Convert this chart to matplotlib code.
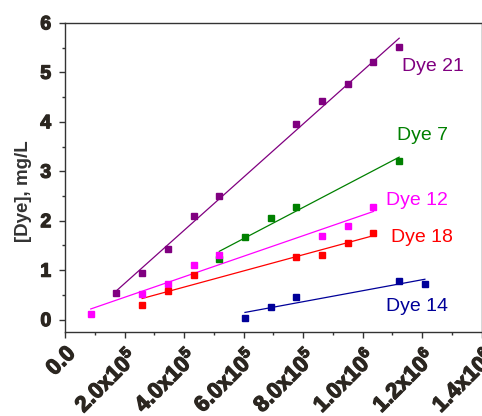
import numpy as np
import matplotlib.pyplot as plt
import matplotlib.patheffects as pe
from matplotlib.ticker import MultipleLocator

plt.rcParams['font.family'] = ['Liberation Sans', 'DejaVu Sans']
plt.rcParams['mathtext.fontset'] = 'custom'
plt.rcParams['mathtext.bf'] = 'Liberation Sans:bold'
plt.rcParams['mathtext.rm'] = 'Liberation Sans'

# Data (time in s, concentration in mg/L)
x_dye21 = [172800, 259200, 345600, 432000, 518400, 777600, 864000, 950400, 1036800, 1123200]
y_dye21 = [0.54, 0.95, 1.43, 2.10, 2.49, 3.96, 4.43, 4.76, 5.20, 5.51]

x_dye7 = [518400, 604800, 691200, 777600, 1123200]
y_dye7 = [1.22, 1.68, 2.05, 2.28, 3.21]

x_dye12 = [86400, 259200, 345600, 432000, 518400, 864000, 950400, 1036800]
y_dye12 = [0.12, 0.51, 0.71, 1.10, 1.31, 1.69, 1.89, 2.28]

x_dye18 = [259200, 345600, 432000, 777600, 864000, 950400, 1036800]
y_dye18 = [0.29, 0.58, 0.91, 1.26, 1.31, 1.55, 1.75]

x_dye14 = [604800, 691200, 777600, 1123200, 1209600]
y_dye14 = [0.04, 0.26, 0.45, 0.78, 0.73]

series = [
    ("Dye 21", x_dye21, y_dye21, "#800080", (1.133e6, 5.12)),
    ("Dye 7", x_dye7, y_dye7, "#008000", (1.117e6, 3.72)),
    ("Dye 12", x_dye12, y_dye12, "#FF00FF", (1.080e6, 2.41)),
    ("Dye 18", x_dye18, y_dye18, "#FF0000", (1.096e6, 1.67)),
    ("Dye 14", x_dye14, y_dye14, "#000099", (1.079e6, 0.26)),
]

tick_col = "#2b2620"
heavy = [pe.withStroke(linewidth=0.9, foreground=tick_col)]

fig = plt.figure(figsize=(4.82, 4.16), dpi=100)
ax = fig.add_axes([0.135, 0.202, 0.864, 0.743])

for name, xs, ys, col, pos in series:
    xs = np.asarray(xs, dtype=float)
    ys = np.asarray(ys)
    ax.plot(xs, ys, "s", color=col, markersize=5, zorder=3)
    # linear fit over the data range
    k, b = np.polyfit(xs, ys, 1)
    xf = np.array([xs.min(), xs.max()])
    ax.plot(xf, k * xf + b, "-", color=col, linewidth=0.9, zorder=2)
    ax.text(pos[0], pos[1], name, color=col, fontsize=14, va="center", ha="left")

ax.set_xlim(0, 1.4e6)
ax.set_ylim(-0.25, 6.0)

ax.xaxis.set_major_locator(MultipleLocator(2e5))
ax.xaxis.set_minor_locator(MultipleLocator(1e5))
ax.yaxis.set_major_locator(MultipleLocator(1))
ax.yaxis.set_minor_locator(MultipleLocator(0.5))

xticks = [0, 2e5, 4e5, 6e5, 8e5, 1.0e6, 1.2e6, 1.4e6]
xlabels = ["0.0", r"$\mathbf{2.0x10^{5}}$", r"$\mathbf{4.0x10^{5}}$", r"$\mathbf{6.0x10^{5}}$",
           r"$\mathbf{8.0x10^{5}}$", r"$\mathbf{1.0x10^{6}}$", r"$\mathbf{1.2x10^{6}}$",
           r"$\mathbf{1.4x10^{6}}$"]
ax.set_xticks(xticks)
ax.set_xticklabels(xlabels, rotation=45, ha="right", rotation_mode="anchor",
                   fontsize=16, fontweight="bold", color=tick_col)
ax.set_yticks([0, 1, 2, 3, 4, 5, 6])
ax.set_yticklabels(["0", "1", "2", "3", "4", "5", "6"], fontsize=14,
                   fontweight="bold", color=tick_col)
for lab in ax.get_xticklabels() + ax.get_yticklabels():
    lab.set_path_effects(heavy)

ax.tick_params(which="major", direction="out", length=4, width=1, color="#333333",
               top=False, right=False)
ax.tick_params(which="minor", direction="out", length=2.5, width=1, color="#333333",
               top=False, right=False)
ax.tick_params(axis="x", pad=4)
ax.tick_params(axis="y", pad=6)

for sp in ax.spines.values():
    sp.set_color("#333333")
    sp.set_linewidth(1)

ax.set_ylabel("[Dye], mg/L", fontsize=13.5, fontweight="bold", color="#333333")
ax.yaxis.set_label_coords(-0.08, 0.456)

fig.savefig("out.png", dpi=100)
